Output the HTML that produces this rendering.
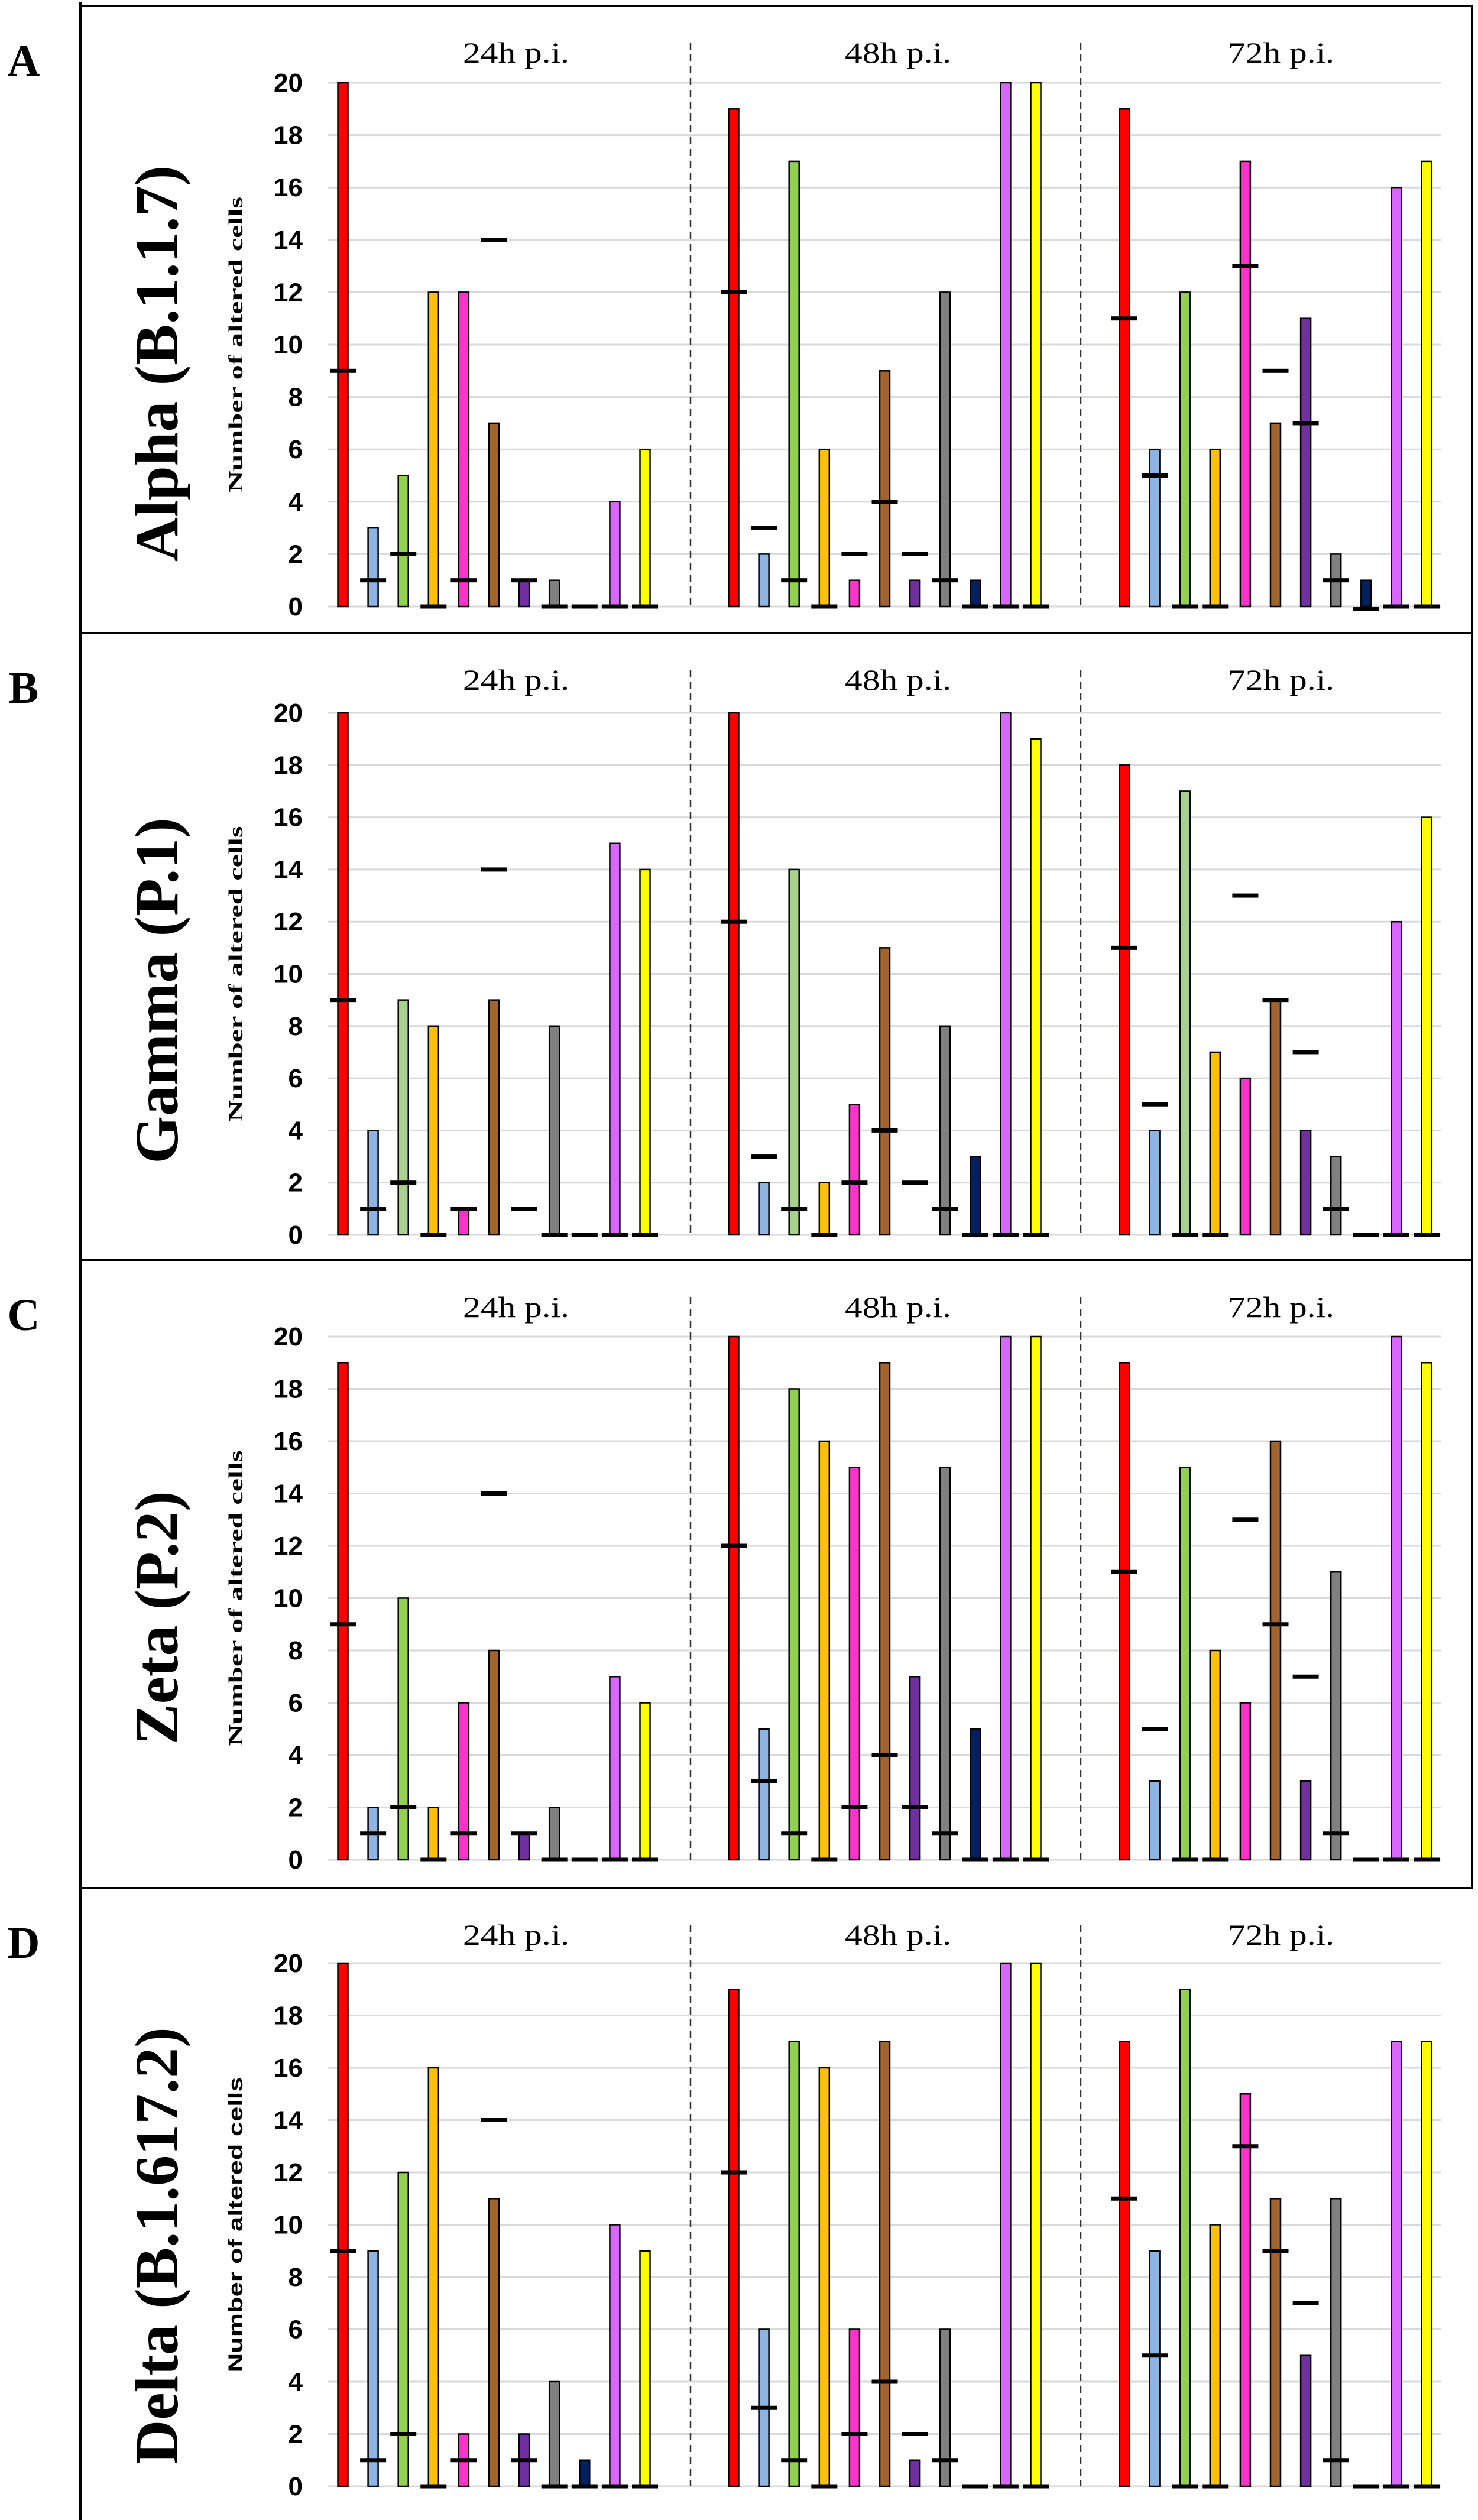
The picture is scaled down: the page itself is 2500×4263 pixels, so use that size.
<!DOCTYPE html>
<html><head><meta charset="utf-8">
<style>
html,body{margin:0;padding:0;background:#fff;}
svg{display:block;}
</style></head>
<body>
<svg id="fig" xmlns="http://www.w3.org/2000/svg" width="2500" height="4263" viewBox="0 0 2500 4263"></svg>
<script>
const panelLetters = ["A","B","C","D"];
const panelTitles = ["Alpha (B.1.1.7)","Gamma (P.1)","Zeta (P.2)","Delta (B.1.617.2)"];
const groupLabels = ["24h p.i.","48h p.i.","72h p.i."];
const yTicks = [0,2,4,6,8,10,12,14,16,18,20];
const seriesNames = ["red","light-blue","green","orange","magenta","brown","purple","gray","navy","violet","yellow"];

const alphaValues = [20,3,5,12,12,7,1,1,0,4,6, 19,2,17,6,1,9,1,12,1,20,20, 19,6,12,6,17,7,11,2,1,16,17];
const alphaMeans  = [9,1,2,0,1,14,1,0,0,0,0, 12,3,1,0,2,4,2,1,0,0,0, 11,5,0,0,13,9,7,1,-0.1,0,0];
const gammaValues = [20,4,9,8,1,9,0,8,0,15,14, 20,2,14,2,5,11,0,8,3,20,19, 18,4,17,7,6,9,4,3,0,12,16];
const gammaMeans  = [9,1,2,0,1,14,1,0,0,0,0, 12,3,1,0,2,4,2,1,0,0,0, 11,5,0,0,13,9,7,1,0,0,0];
const zetaValues  = [19,2,10,2,6,8,1,2,0,7,6, 20,5,18,16,15,19,7,15,5,20,20, 19,3,15,8,6,16,3,11,0,20,19];
const zetaMeans   = [9,1,2,0,1,14,1,0,0,0,0, 12,3,1,0,2,4,2,1,0,0,0, 11,5,0,0,13,9,7,1,0,0,0];
const deltaValues = [20,9,12,16,2,11,2,4,1,10,9, 19,6,17,16,6,17,1,6,0,20,20, 17,9,19,10,15,11,5,11,0,17,17];
const deltaMeans  = [9,1,2,0,1,14,1,0,0,0,0, 12,3,1,0,2,4,2,1,0,0,0, 11,5,0,0,13,9,7,1,0,0,0];

const allValues = [alphaValues,gammaValues,zetaValues,deltaValues];
const allMeans = [alphaMeans,gammaMeans,zetaMeans,deltaMeans];

const svg = document.getElementById('fig');
const NS = "http://www.w3.org/2000/svg";
function mk(tag, attrs, parent){ const e=document.createElementNS(NS,tag); for(const k in attrs) e.setAttribute(k,attrs[k]); (parent||svg).appendChild(e); return e; }

const colorsDefault = ["#ff0000","#8eb4e3","#92d050","#ffc000","#ff33cc","#a0642e","#7030a0","#808080","#002060","#d966ff","#ffff00"];
const colorsGamma = ["#ff0000","#8eb4e3","#a9d18e","#ffc000","#ff33cc","#a0642e","#7030a0","#808080","#002060","#d966ff","#ffff00"];

const panelTop = [10,1071,2132,3194];
const panelY20 = [140,1206,2261,3321];
const panelY0 = [1026,2089,3146,4206];

// outer borders
mk('line',{x1:136,y1:4,x2:136,y2:4263,stroke:'#000','stroke-width':4});
mk('line',{x1:2490,y1:10,x2:2490,y2:3194,stroke:'#000','stroke-width':3});

function xOf(g,i){ return 580 + g*661 + i*51.1; }

for(let p=0;p<4;p++){
  const top = panelTop[p];
  const y0 = panelY0[p], y20 = panelY20[p];
  const yOf = v => y0 - (y0-y20)*v/20;
  const g = mk('g',{});
  
  
  const tl = mk('line',{x1:136,y1:top,x2:2492,y2:top,stroke:'#000','stroke-width':4},g);
  
  
  const letter = mk('text',{x:40,y:top+118,'text-anchor':'middle','font-family':'Liberation Serif, serif','font-weight':'bold','font-size':76},g);
  letter.textContent = panelLetters[p];
  
  
  const cy = top + 605;
  const big = mk('text',{x:0,y:0,'text-anchor':'middle','font-family':'Liberation Serif, serif','font-weight':'bold','font-size':104,transform:`translate(300,${cy}) rotate(-90)`},g);
  big.textContent = panelTitles[p];
  
  
  const yt = mk('text',{x:0,y:0,'text-anchor':'middle','font-family':p==3?'Liberation Sans, sans-serif':'Liberation Serif, serif','font-weight':'bold','font-size':34,textLength:500,lengthAdjust:'spacingAndGlyphs',transform:`translate(410,${(y0+y20)/2}) rotate(-90)`},g);
  yt.textContent = "Number of altered cells";
  
  
  // grid + ticks
  for(const t of yTicks){
    const gl = mk('line',{x1:554,y1:yOf(t),x2:2438,y2:yOf(t),stroke:'#d9d9d9','stroke-width':3},g);
    
    
    const tx = mk('text',{x:512,y:yOf(t)+15,'text-anchor':'end','font-family':'Liberation Sans Narrow, Liberation Sans, sans-serif','font-weight':'bold','font-size':44},g);
    tx.textContent = t;
    
    
  }
  // group titles + separators
  const titleX = [873,1519,2167];
  for(let k=0;k<3;k++){
    const gt = mk('text',{x:titleX[k],y:top+96,'text-anchor':'middle','font-family':'Liberation Serif, serif','font-size':50,textLength:180,lengthAdjust:'spacingAndGlyphs'},g);
    gt.textContent = groupLabels[k];
    
    
  }
  for(const sx of [1168,1828]){
    const sl = mk('line',{x1:sx,y1:top+62,x2:sx,y2:y0,stroke:'#333','stroke-width':2.5,'stroke-dasharray':'12 8'},g);
    
    
  }
  const cols = p==1 ? colorsGamma : colorsDefault;
  const vals = allValues[p], means = allMeans[p];
  for(let k=0;k<3;k++){
    for(let i=0;i<11;i++){
      const idx = k*11+i;
      const v = vals[idx], m = means[idx];
      const cx = xOf(k,i);
      if(v>0){
        const r = mk('rect',{x:cx-8.5,y:yOf(v),width:17,height:y0-yOf(v),fill:cols[i],stroke:'#000','stroke-width':2.5},g);
        
        
      }
      const d = mk('rect',{x:cx-22,y:yOf(m)-3.5,width:44,height:7,fill:'#000'},g);
      
      
    }
  }
}
</script>
</body></html>
